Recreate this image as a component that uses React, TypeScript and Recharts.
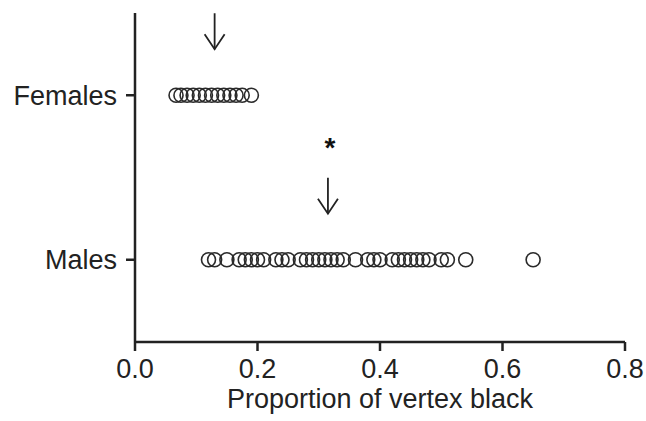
import { ScatterChart, Scatter, XAxis, YAxis, ReferenceDot } from 'recharts';

// proportion of vertex black, one circle per bird
const femaleValues = [0.067, 0.075, 0.085, 0.095, 0.105, 0.115, 0.125, 0.135, 0.145, 0.155, 0.165, 0.175, 0.19];
const maleValues = [
  0.12, 0.13, 0.15, 0.17, 0.18, 0.19, 0.2, 0.21, 0.23, 0.24, 0.25, 0.27, 0.28, 0.29,
  0.3, 0.31, 0.32, 0.33, 0.34, 0.36, 0.38, 0.39, 0.4, 0.42, 0.43, 0.44, 0.45, 0.46,
  0.47, 0.48, 0.5, 0.51, 0.54, 0.65,
];
const groupLabels = ['Males', 'Females'];
const groupRows = [1, 3];
const medians = [0.13, 0.315];
const xTicks = [0, 0.2, 0.4, 0.6, 0.8];

const femaleData = femaleValues.map((v) => ({ x: v, y: groupRows[1] }));
const maleData = maleValues.map((v) => ({ x: v, y: groupRows[0] }));

const FONT = '"Liberation Sans", Arial, sans-serif';

const OpenCircle = (props: any) => (
  <circle cx={props.cx} cy={props.cy} r={7} fill="none" stroke="#2a2a2a" strokeWidth={1.6} />
);

const Arrow = ({ cx, cy, star }: any) => {
  const tip = cy - 46;
  const top = cy - 82;
  return (
    <g stroke="#222" strokeWidth={1.8} fill="none">
      <line x1={cx} y1={top} x2={cx} y2={tip} />
      <polyline points={`${cx - 10},${tip - 15} ${cx},${tip} ${cx + 10},${tip - 15}`} />
      {star && (
        <text x={cx + 2} y={cy - 103} textAnchor="middle" fontSize={28} fontWeight="bold"
          fontFamily={FONT} fill="#111" stroke="none">*</text>
      )}
    </g>
  );
};

export default function App() {
  return (
    <div style={{ position: 'absolute', left: 0, top: 0, background: '#fff' }}>
      <ScatterChart width={646} height={421} margin={{ top: 13, right: 21, bottom: 0, left: 0 }}>
        <XAxis
          type="number"
          dataKey="x"
          domain={[0, 0.8]}
          ticks={xTicks}
          tickFormatter={(v: number) => v.toFixed(1)}
          axisLine={{ stroke: '#222', strokeWidth: 2.5 }}
          tickLine={{ stroke: '#222', strokeWidth: 2.5 }}
          tickSize={9}
          tick={{ fill: '#222', fontSize: 27, fontFamily: FONT, dy: 6 }}
          height={79}
          label={{ value: 'Proportion of vertex black', position: 'insideBottom', offset: 13, fill: '#222', fontSize: 27, fontFamily: FONT }}
        />
        <YAxis
          type="number"
          dataKey="y"
          domain={[0, 4]}
          ticks={groupRows}
          tickFormatter={(v: number) => groupLabels[groupRows.indexOf(v)]}
          axisLine={{ stroke: '#222', strokeWidth: 2.5 }}
          tickLine={{ stroke: '#222', strokeWidth: 2.5 }}
          tickSize={9}
          tick={{ fill: '#222', fontSize: 27, fontFamily: FONT, dx: -7 }}
          width={135}
        />
        <Scatter data={femaleData} shape={OpenCircle} isAnimationActive={false} />
        <Scatter data={maleData} shape={OpenCircle} isAnimationActive={false} />
        <ReferenceDot x={medians[0]} y={groupRows[1]} shape={(p: any) => <Arrow {...p} />} />
        <ReferenceDot x={medians[1]} y={groupRows[0]} shape={(p: any) => <Arrow {...p} star />} />
      </ScatterChart>
    </div>
  );
}
